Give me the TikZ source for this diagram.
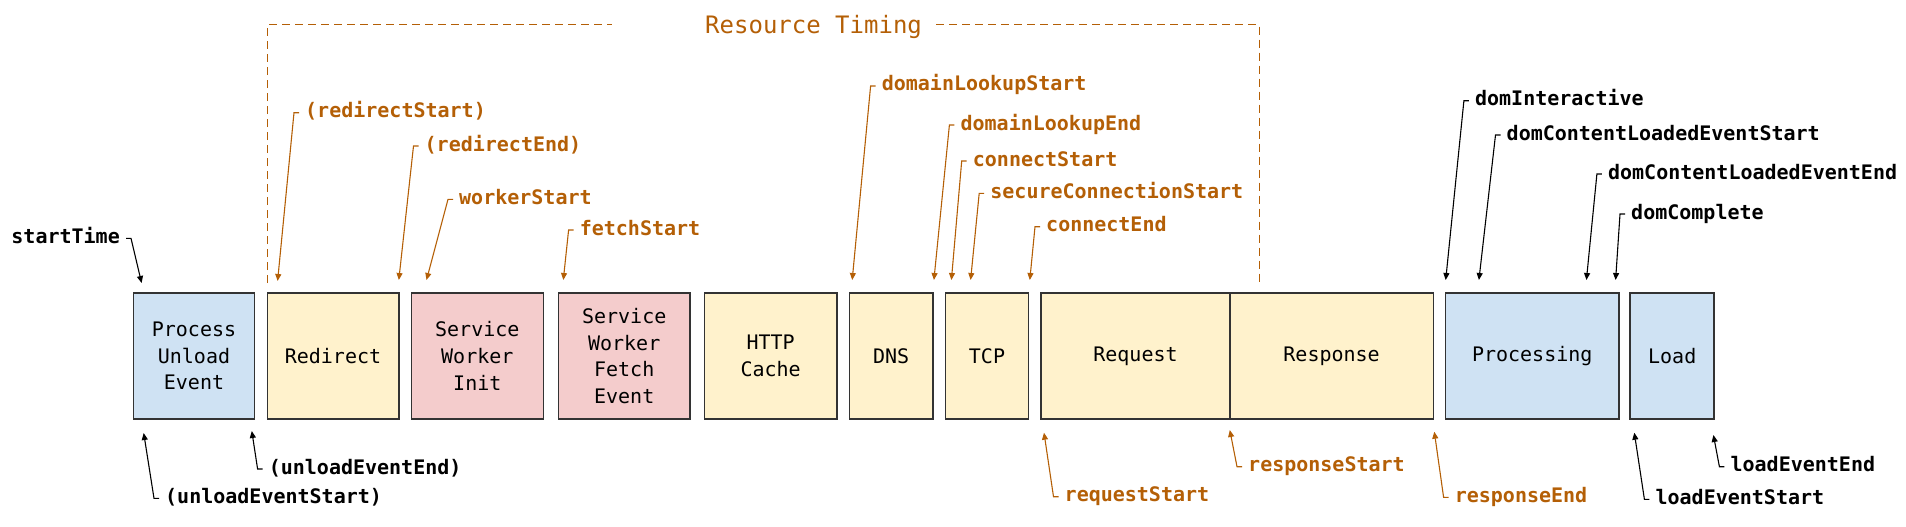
\documentclass[tikz,border=0pt]{standalone}
\usepackage{fontspec}
\setmonofont{DejaVu Sans Mono}
\usepackage{tikz}
\usetikzlibrary{arrows.meta}
\usepackage{color}
\definecolor{rtorange}{HTML}{B45F06}
\definecolor{boxblue}{HTML}{CFE2F3}
\definecolor{boxyellow}{HTML}{FFF2CC}
\definecolor{boxpink}{HTML}{F4CCCC}
\definecolor{boxline}{HTML}{333333}

\begin{document}
\begin{tikzpicture}[x=1pt, y=-1pt, >={Triangle[length=7pt,width=6pt]},
		phase/.style={rectangle, draw=boxline, line width=1.5pt, minimum height=126pt, inner sep=0pt, align=center, font=\ttfamily\fontsize{20}{26.7}\selectfont},
		evlabel/.style={anchor=west, inner xsep=6pt, inner ysep=0pt, text height=14pt, text depth=4pt, font=\ttfamily\bfseries\fontsize{20}{24}\selectfont},
		rtlabel/.style={evlabel, text=rtorange},
		ptr/.style={->, line width=1.1pt},
		rtptr/.style={ptr, draw=rtorange},
		rtdash/.style={draw=rtorange, line width=1pt, dash pattern=on 8pt off 5pt}]
		\useasboundingbox (0,0) rectangle (1906,527);
		
		% phases
		\node (proc) [phase, fill=boxblue, minimum width=121pt] at (194,356) {Process\\Unload\\Event};
		\node (redir) [phase, fill=boxyellow, minimum width=131.5pt] at (333,356) {Redirect};
		\node (swinit) [phase, fill=boxpink, minimum width=132pt] at (477.3,356) {Service\\Worker\\Init};
		\node (swfetch) [phase, fill=boxpink, minimum width=131.6pt] at (624.2,356) {Service\\Worker\\Fetch\\Event};
		\node (cache) [phase, fill=boxyellow, minimum width=132.7pt] at (770.6,356) {HTTP\\Cache};
		\node (dns) [phase, fill=boxyellow, minimum width=83.6pt] at (891.2,356) {DNS};
		\node (tcp) [phase, fill=boxyellow, minimum width=83.3pt] at (987,356) {TCP};
		\node (request) [phase, fill=boxyellow, minimum width=188.6pt] at (1135.5,356) {Request};
		\node (response) [phase, fill=boxyellow, minimum width=203.6pt] at (1331.6,356) {Response};
		\node (processing) [phase, fill=boxblue, minimum width=173.2pt] at (1532.2,356) {Processing};
		\node (load) [phase, fill=boxblue, minimum width=84pt] at (1672.2,356) {Load};
		
		% resource timing bracket
		\node (restiming) [anchor=west, inner sep=0pt, text height=17.5pt, text depth=0pt, text=rtorange, font=\ttfamily\fontsize{24}{28}\selectfont] at (705,25) {Resource Timing};
		\coordinate (rtleft) at (267.3,283);
		\coordinate (rtright) at (1259.6,283);
		\draw [rtdash] (rtleft) |- ([xshift=-93pt]restiming.west);
		\draw [rtdash] ([xshift=14pt]restiming.east) -| (rtright);
		
		% marks above
		\coordinate (startT) at (141.6,283);
		\coordinate (rsT) at (277.6,281);
		\coordinate (reT) at (398.8,280);
		\coordinate (wsT) at (426.5,280);
		\coordinate (fsT) at (563.3,280);
		\coordinate (dlsT) at (852.2,280);
		\coordinate (dleT) at (933.9,280);
		\coordinate (csT) at (951.4,280);
		\coordinate (scsT) at (970.6,280);
		\coordinate (ceT) at (1029.8,280);
		\coordinate (diT) at (1445.7,280);
		\coordinate (dclsT) at (1478.9,280);
		\coordinate (dcleT) at (1586.4,280);
		\coordinate (dcT) at (1615.6,280);
		
		\node (startTime) [evlabel, anchor=east] at (126,238.3) {startTime};
		\draw [ptr] (startTime.east) -- ++(5,0) -- (startT);
		\node (rs) [rtlabel] at (299,112.7) {(redirectStart)};
		\draw [rtptr] (rs.west) -- ++(-5,0) -- (rsT);
		\node (re) [rtlabel] at (418.5,146) {(redirectEnd)};
		\draw [rtptr] (re.west) -- ++(-5,0) -- (reT);
		\node (ws) [rtlabel] at (453,199.3) {workerStart};
		\draw [rtptr] (ws.west) -- ++(-5,0) -- (wsT);
		\node (fs) [rtlabel] at (573.6,230) {fetchStart};
		\draw [rtptr] (fs.west) -- ++(-5,0) -- (fsT);
		\node (dls) [rtlabel] at (875.6,86) {domainLookupStart};
		\draw [rtptr] (dls.west) -- ++(-5,0) -- (dlsT);
		\node (dle) [rtlabel] at (954.4,125) {domainLookupEnd};
		\draw [rtptr] (dle.west) -- ++(-5,0) -- (dleT);
		\node (cs) [rtlabel] at (966.7,161) {connectStart};
		\draw [rtptr] (cs.west) -- ++(-5,0) -- (csT);
		\node (scs) [rtlabel] at (984.2,193.3) {secureConnectionStart};
		\draw [rtptr] (scs.west) -- ++(-5,0) -- (scsT);
		\node (ce) [rtlabel] at (1040,226.7) {connectEnd};
		\draw [rtptr] (ce.west) -- ++(-5,0) -- (ceT);
		\node (di) [evlabel] at (1468.9,100.7) {domInteractive};
		\draw [ptr] (di.west) -- ++(-5,0) -- (diT);
		\node (dcls) [evlabel] at (1500.5,135) {domContentLoadedEventStart};
		\draw [ptr] (dcls.west) -- ++(-5,0) -- (dclsT);
		\node (dcle) [evlabel] at (1601.9,174) {domContentLoadedEventEnd};
		\draw [ptr] (dcle.west) -- ++(-5,0) -- (dcleT);
		\node (dc) [evlabel] at (1625,214) {domComplete};
		\draw [ptr] (dc.west) -- ++(-5,0) -- (dcT);
		
		% marks below
		\coordinate (uesT) at (143.7,433);
		\coordinate (ueeT) at (251.8,431);
		\coordinate (rqsT) at (1044,432.7);
		\coordinate (rpsT) at (1229.8,430);
		\coordinate (rpeT) at (1434.3,431.7);
		\coordinate (lesT) at (1634.3,432.7);
		\coordinate (leeT) at (1713.4,435);
		
		\node (ues) [evlabel] at (159,498.3) {(unloadEventStart)};
		\draw [ptr] (ues.west) -- ++(-5,0) -- (uesT);
		\node (uee) [evlabel] at (262.6,469) {(unloadEventEnd)};
		\draw [ptr] (uee.west) -- ++(-5,0) -- (ueeT);
		\node (rqs) [rtlabel] at (1058.5,496.7) {requestStart};
		\draw [rtptr] (rqs.west) -- ++(-5,0) -- (rqsT);
		\node (rps) [rtlabel] at (1242,466.7) {responseStart};
		\draw [rtptr] (rps.west) -- ++(-5,0) -- (rpsT);
		\node (rpe) [rtlabel] at (1448.6,497.3) {responseEnd};
		\draw [rtptr] (rpe.west) -- ++(-5,0) -- (rpeT);
		\node (les) [evlabel] at (1649.4,499.3) {loadEventStart};
		\draw [ptr] (les.west) -- ++(-5,0) -- (lesT);
		\node (lee) [evlabel] at (1724.4,466.7) {loadEventEnd};
		\draw [ptr] (lee.west) -- ++(-5,0) -- (leeT);
		
		\end{tikzpicture}
\end{document}
